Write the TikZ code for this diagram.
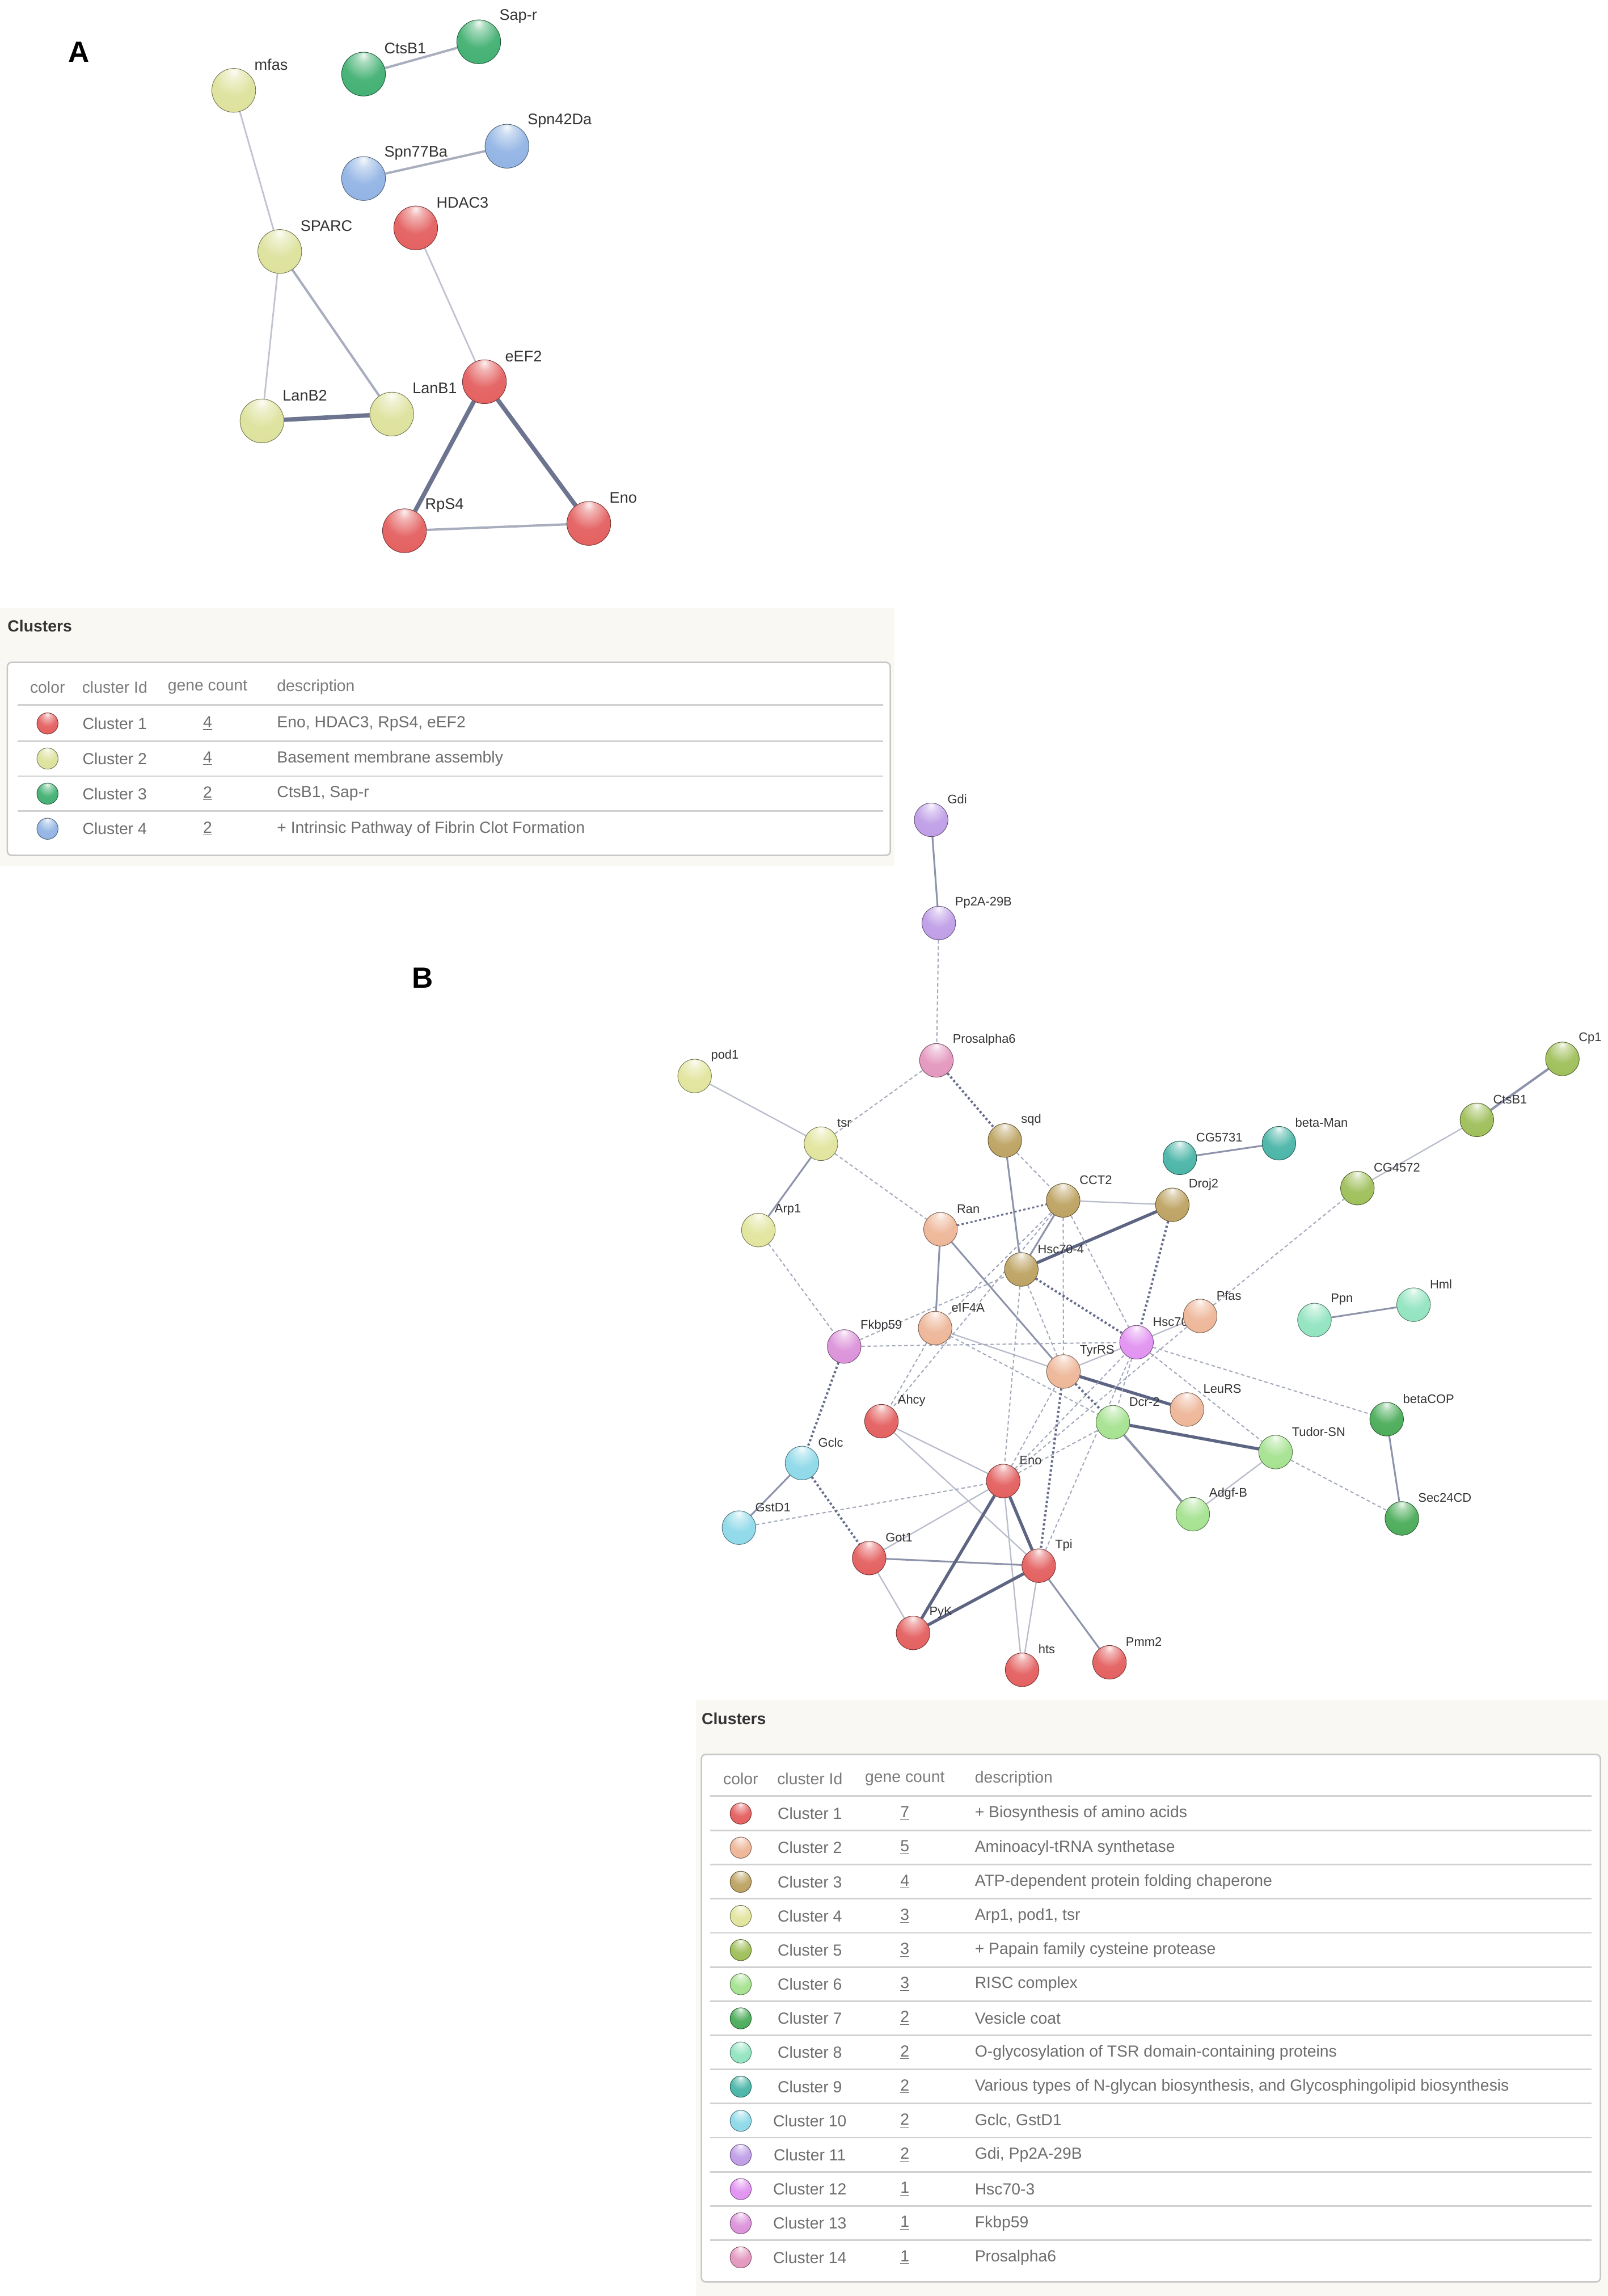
\documentclass[tikz,border=0pt]{standalone}
\usepackage{fontspec}
\setmainfont{Liberation Sans}
\usetikzlibrary{calc}

\definecolor{ca1}{HTML}{E35B5B}
\definecolor{ca2}{HTML}{DCE199}
\definecolor{ca3}{HTML}{3DAE6E}
\definecolor{ca4}{HTML}{8FB2E3}
\definecolor{cl1}{HTML}{E35B5B}
\definecolor{cl2}{HTML}{EDB495}
\definecolor{cl3}{HTML}{BBA05E}
\definecolor{cl4}{HTML}{E0E49A}
\definecolor{cl5}{HTML}{9CBD55}
\definecolor{cl6}{HTML}{A3E18D}
\definecolor{cl7}{HTML}{46AA55}
\definecolor{cl8}{HTML}{8FE3BE}
\definecolor{cl9}{HTML}{45B3A5}
\definecolor{cl10}{HTML}{8BD8E8}
\definecolor{cl11}{HTML}{BD9BE6}
\definecolor{cl12}{HTML}{E08FF0}
\definecolor{cl13}{HTML}{DA8FD8}
\definecolor{cl14}{HTML}{E394BC}
\definecolor{labgray}{HTML}{333333}
\definecolor{hdgray}{HTML}{7B7B7B}
\definecolor{rwgray}{HTML}{6E6E6E}
\definecolor{panbg}{HTML}{F9F8F3}
\definecolor{ethinc}{RGB}{185,189,203}
\definecolor{emidc}{RGB}{141,147,170}
\definecolor{ethickc}{RGB}{93,101,131}
\definecolor{edashc}{RGB}{163,169,187}
\definecolor{edotc}{RGB}{102,109,140}
\colorlet{gcol}{gray}

\pgfdeclareradialshading[gcol]{gloss}{\pgfqpoint{0bp}{22bp}}{color(0bp)=(gcol!8!white); color(7bp)=(gcol!45!white); color(22bp)=(gcol!92!white); color(48bp)=(gcol); color(62bp)=(gcol!80!black); color(72bp)=(gcol!60!black)}

\pgfdeclarelayer{edges}
\pgfdeclarelayer{labels}
\pgfsetlayers{edges,labels,main}

\tikzset{
  gene/.style={circle, inner sep=0pt, minimum size=23pt, shading=gloss, draw=gcol!50!black, line width=0.35pt},
  genea/.style={gene, minimum size=30pt},
  tball/.style={gene, minimum size=14.5pt},
  glab/.style={anchor=west, inner sep=0pt, text=labgray, font=\fontsize{8.5}{10}\selectfont},
  glaba/.style={glab, font=\fontsize{10.5}{12}\selectfont},
  panel/.style={inner sep=0pt, font=\fontsize{20}{22}\selectfont\bfseries},
  ttitle/.style={anchor=west, inner sep=0pt, text=labgray, font=\fontsize{11}{13}\selectfont\bfseries},
  thead/.style={inner sep=0pt, text=hdgray, font=\fontsize{11}{13}\selectfont},
  tcell/.style={inner sep=0pt, text=rwgray, font=\fontsize{11}{13}\selectfont},
  rowline/.style={draw=black!18, line width=1.1pt},
  aethin/.style={line width=1.1pt, color=ethinc!90!white},
  aemid/.style={line width=1.6pt, color=emidc!75!white},
  aethick/.style={line width=3pt, color=ethickc!90!white},
  ethin/.style={line width=0.9pt, color=ethinc},
  emid/.style={line width=1.2pt, color=emidc},
  ethick/.style={line width=2.1pt, color=ethickc},
  edash/.style={line width=0.8pt, color=edashc, dash pattern=on 2.4pt off 1.8pt},
  edot/.style={line width=1.6pt, color=edotc, dash pattern=on 1.5pt off 1.6pt}
}

\begin{document}
\begin{tikzpicture}[x=1pt,y=-1pt]
\useasboundingbox (0,0) rectangle (1100,1570.3);

\node[panel] (pa) at (54,35.6) {A};
\node[panel] (pb) at (289,669) {B};

\foreach \n/\x/\y/\c/\t in {afas/159.9/61.8/ca2/mfas, acts/248.7/50.7/ca3/CtsB1, asap/327.5/28.6/ca3/Sap-r,
  aspn7/248.7/122.1/ca4/Spn77Ba, aspn4/346.8/100/ca4/Spn42Da, ahdac/284.4/155.9/ca1/HDAC3,
  asparc/191.4/172/ca2/SPARC, aeef/331.4/261.1/ca1/eEF2, alanb2/179.2/287.9/ca2/LanB2,
  alanb1/268/283.2/ca2/LanB1, arps/276.7/363/ca1/RpS4, aeno/402.8/358/ca1/Eno}{
  \colorlet{gcol}{\c}
  \node[genea] (\n) at (\x,\y) {};
  \begin{pgfonlayer}{labels}
    \node[glaba] (l\n) at (\x+14,\y-17.5) {\t};
  \end{pgfonlayer}
}

\begin{pgfonlayer}{edges}
\draw[aemid] (acts) -- (asap);
\draw[aemid] (aspn7) -- (aspn4);
\draw[aethin] (afas) -- (asparc);
\draw[aethin] (ahdac) -- (aeef);
\draw[aethin] (asparc) -- (alanb2);
\draw[aemid] (asparc) -- (alanb1);
\draw[aethick] (alanb2) -- (alanb1);
\draw[aethick] (aeef) -- (arps);
\draw[aethick] (aeef) -- (aeno);
\draw[aemid] (arps) -- (aeno);
\end{pgfonlayer}

\fill[panbg] (0,416) rectangle (612,592);
\node[ttitle] (ta) at (5,428) {Clusters};
\draw[rounded corners=3pt, draw=black!22, fill=white, line width=1pt] (5,453) rectangle (609,585);
\node[thead] (tha1) at (32.5,470) {color};
\node[thead] (tha2) at (78.5,470) {cluster Id};
\node[thead] (tha3) at (142,470) {gene count};
\node[thead, anchor=west] (tha4) at (189.3,470) {description};
\draw[rowline] (12,482) -- (604,482);
\foreach \i/\c/\k/\d in {1/ca1/4/{Eno, HDAC3, RpS4, eEF2}, 2/ca2/4/{Basement membrane assembly},
  3/ca3/2/{CtsB1, Sap-r}, 4/ca4/2/{+ Intrinsic Pathway of Fibrin Clot Formation}}{
  \pgfmathsetmacro\ry{494.8+(\i-1)*24}
  \colorlet{gcol}{\c}
  \node[tball] (ab\i) at (32.5,\ry) {};
  \node[tcell] (aid\i) at (78.5,\ry) {Cluster \i};
  \node[tcell] (an\i) at (142,\ry) {\underline{\k}};
  \node[tcell, anchor=west] (ad\i) at (189.3,\ry) {\d};
}
\foreach \i in {1,2,3}
  \draw[rowline] (12,{506.8+(\i-1)*24}) -- (604,{506.8+(\i-1)*24});

\foreach \n/\x/\y/\c/\t in {gdi/637/560.7/cl11/Gdi, pp/642.2/631.3/cl11/Pp2A-29B, pros/640.6/725.2/cl14/Prosalpha6,
  pod/475.2/735.9/cl4/pod1, tsr/561.6/782.2/cl4/tsr, sqd/687.4/780/cl3/sqd, arp/518.8/841.3/cl4/Arp1,
  cct/727.3/821/cl3/CCT2, droj/802/824/cl3/Droj2, cg57/807.1/791.9/cl9/CG5731, bman/874.9/781.9/cl9/beta-Man,
  cp/1068.8/724.2/cl5/Cp1, bcts/1010.3/765.9/cl5/CtsB1, cg45/928.6/812.6/cl5/CG4572,
  ran/643.4/840.7/cl2/Ran, hsc4/698.7/868.2/cl3/Hsc70-4, eif/639.7/908.3/cl2/eIF4A, fkbp/577.5/920.9/cl13/Fkbp59,
  hsc3/777.5/918/cl12/Hsc70-3, pfas/821/900/cl2/Pfas, ppn/899.2/902.8/cl8/Ppn, hml/967/892.3/cl8/Hml,
  tyr/727.5/938/cl2/TyrRS, ahcy/603/972/cl1/Ahcy, dcr/761.3/972.7/cl6/Dcr-2, leu/812/964/cl2/LeuRS,
  bcop/948.6/970.6/cl7/betaCOP, tud/872.6/993.1/cl6/Tudor-SN, gclc/548.6/1000.6/cl10/Gclc,
  beno/686.3/1012.9/cl1/Eno, adgf/816/1035.6/cl6/Adgf-B, sec/959/1038.5/cl7/Sec24CD,
  gst/505.5/1044.8/cl10/GstD1, got/594.6/1065.6/cl1/Got1, tpi/710.6/1070.8/cl1/Tpi,
  pyk/624.6/1116.8/cl1/PyK, hts/699.2/1142/cl1/hts, pmm/759/1136.9/cl1/Pmm2}{
  \colorlet{gcol}{\c}
  \node[gene] (\n) at (\x,\y) {};
  \begin{pgfonlayer}{labels}
    \node[glab] (l\n) at (\x+11,\y-14) {\t};
  \end{pgfonlayer}
}

\begin{pgfonlayer}{edges}
\draw[ethin] (pod) -- (tsr);
\draw[ethin] (cct) -- (droj);
\draw[ethin] (tyr) -- (hsc3);
\draw[ethin] (hsc3) -- (pfas);
\draw[ethin] (eif) -- (tyr);
\draw[ethin] (tud) -- (adgf);
\draw[ethin] (cg45) -- (bcts);
\draw[ethin] (ahcy) -- (beno);
\draw[ethin] (ahcy) -- (tpi);
\draw[ethin] (beno) -- (hts);
\draw[ethin] (tpi) -- (hts);
\draw[ethin] (got) -- (pyk);
\draw[ethin] (beno) -- (got);
\draw[emid] (gdi) -- (pp);
\draw[emid] (tsr) -- (arp);
\draw[emid] (sqd) -- (hsc4);
\draw[emid] (cct) -- (hsc4);
\draw[emid] (ran) -- (eif);
\draw[emid] (ran) -- (tyr);
\draw[emid] (gclc) -- (gst);
\draw[emid] (got) -- (tpi);
\draw[emid] (tpi) -- (pmm);
\draw[emid] (bcop) -- (sec);
\draw[emid] (ppn) -- (hml);
\draw[emid] (cg57) -- (bman);
\draw[emid, line width=1.6pt] (dcr) -- (adgf);
\draw[emid, line width=1.6pt] (bcts) -- (cp);
\draw[ethick] (hsc4) -- (droj);
\draw[ethick] (tyr) -- (leu);
\draw[ethick] (dcr) -- (tud);
\draw[ethick] (beno) -- (pyk);
\draw[ethick] (beno) -- (tpi);
\draw[ethick] (pyk) -- (tpi);
\draw[edash] (pp) -- (pros);
\draw[edash] (tsr) -- (pros);
\draw[edash] (tsr) -- (ran);
\draw[edash] (sqd) -- (cct);
\draw[edash] (arp) -- (fkbp);
\draw[edash] (fkbp) -- (hsc4);
\draw[edash] (fkbp) -- (hsc3);
\draw[edash] (cct) -- (eif);
\draw[edash] (cct) -- (ahcy);
\draw[edash] (cct) -- (tyr);
\draw[edash] (cct) -- (hsc3);
\draw[edash] (hsc4) -- (tyr);
\draw[edash] (hsc4) -- (beno);
\draw[edash] (eif) -- (dcr);
\draw[edash] (eif) -- (ahcy);
\draw[edash] (beno) -- (tyr);
\draw[edash] (beno) -- (hsc3);
\draw[edash] (beno) -- (dcr);
\draw[edash] (tpi) -- (hsc3);
\draw[edash] (gst) -- (beno);
\draw[edash] (hsc3) -- (bcop);
\draw[edash] (hsc3) -- (tud);
\draw[edash] (hsc3) -- (dcr);
\draw[edash] (tud) -- (sec);
\draw[edash] (pfas) -- (cg45);
\draw[edash] (pfas) -- (beno);
\draw[edot] (pros) -- (sqd);
\draw[edot, line width=1.2pt] (ran) -- (cct);
\draw[edot] (hsc4) -- (hsc3);
\draw[edot] (droj) -- (hsc3);
\draw[edot] (tyr) -- (dcr);
\draw[edot] (tyr) -- (tpi);
\draw[edot] (fkbp) -- (gclc);
\draw[edot] (gclc) -- (got);
\end{pgfonlayer}

\fill[panbg] (476,1163) rectangle (1100,1570.3);
\node[ttitle] (tb) at (479.8,1175.3) {Clusters};
\draw[rounded corners=3pt, draw=black!22, fill=white, line width=1pt] (479.8,1199.9) rectangle (1094.8,1560.7);
\node[thead] (thb1) at (506.7,1216.5) {color};
\node[thead] (thb2) at (554,1216.5) {cluster Id};
\node[thead] (thb3) at (619,1216.5) {gene count};
\node[thead, anchor=west] (thb4) at (666.7,1216.5) {description};
\draw[rowline] (485.8,1228.1) -- (1088.7,1228.1);
\foreach \i/\c/\k/\d in {1/cl1/7/{+ Biosynthesis of amino acids}, 2/cl2/5/{Aminoacyl-tRNA synthetase},
  3/cl3/4/{ATP-dependent protein folding chaperone}, 4/cl4/3/{Arp1, pod1, tsr},
  5/cl5/3/{+ Papain family cysteine protease}, 6/cl6/3/{RISC complex}, 7/cl7/2/{Vesicle coat},
  8/cl8/2/{O-glycosylation of TSR domain-containing proteins},
  9/cl9/2/{Various types of N-glycan biosynthesis, and Glycosphingolipid biosynthesis},
  10/cl10/2/{Gclc, GstD1}, 11/cl11/2/{Gdi, Pp2A-29B}, 12/cl12/1/{Hsc70-3}, 13/cl13/1/{Fkbp59},
  14/cl14/1/{Prosalpha6}}{
  \pgfmathsetmacro\ry{1240.3+(\i-1)*23.35}
  \colorlet{gcol}{\c}
  \node[tball] (bb\i) at (506.7,\ry) {};
  \node[tcell] (bid\i) at (554,\ry) {Cluster \i};
  \node[tcell] (bn\i) at (619,\ry) {\underline{\k}};
  \node[tcell, anchor=west] (bd\i) at (666.7,\ry) {\d};
}
\foreach \i in {1,...,13}
  \draw[rowline] (485.8,{1251.9+(\i-1)*23.35}) -- (1088.7,{1251.9+(\i-1)*23.35});
\end{tikzpicture}
\end{document}
